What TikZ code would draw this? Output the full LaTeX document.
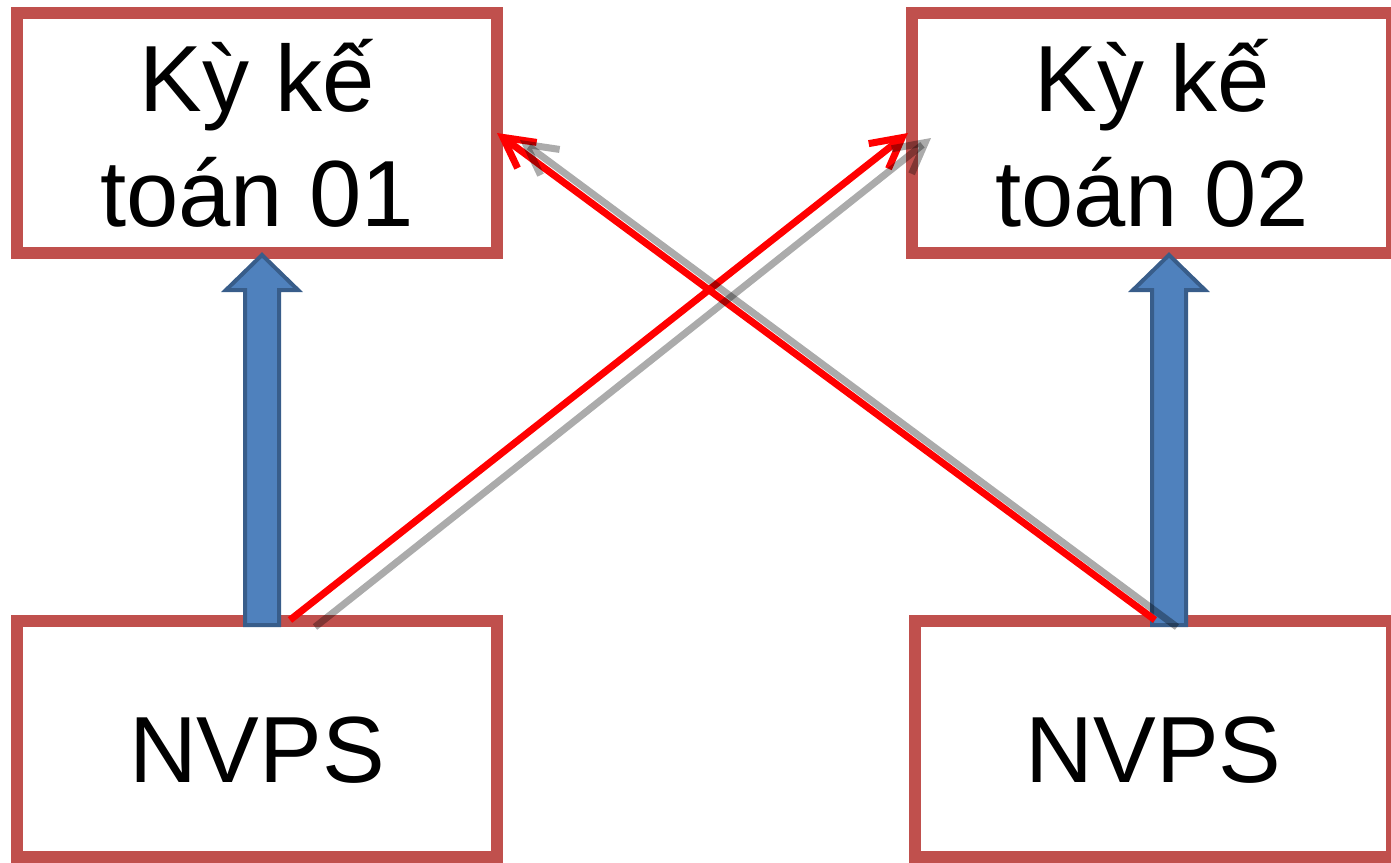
\documentclass[tikz,border=0pt]{standalone}
\usepackage{fontspec}
\setmainfont{Liberation Sans}
\usetikzlibrary{arrows.meta}
\definecolor{boxred}{HTML}{C0504D}
\definecolor{bluefill}{HTML}{4F81BD}
\definecolor{blueline}{HTML}{385D8A}
\begin{document}
\begin{tikzpicture}[x=1pt,y=-1pt,
  box/.style={draw=boxred,line width=12pt,inner sep=0pt,outer sep=0pt,
    minimum width=480pt,minimum height=240pt,align=center,
    font=\fontsize{94}{115}\selectfont},
  single/.style={text height=86pt,text depth=0pt},
  bluearrow/.style={draw=blueline,fill=bluefill,line width=4pt,line join=miter},
  redline/.style={draw=red,line width=7pt,-{Straight Barb[length=30pt,width=32pt]}},
  grayline/.style={draw=black,draw opacity=0.33,line width=7pt,-{Straight Barb[length=30pt,width=32pt]}}]
\useasboundingbox (0,0) rectangle (1391,862);
\node[box] (k1) at (257,133) {Kỳ kế\\toán 01};
\node[box] (k2) at (1152,133) {Kỳ kế\\toán 02};
\node[box,single,minimum height=236pt] (n1) at (257,739) {NVPS};
\node[box,single,minimum height=236pt,minimum width=477pt] (n2) at (1153.5,739) {NVPS};
\draw[bluearrow] (262,255) -- (298,290) -- (279,290) -- (279,625) -- (245,625) -- (245,290) -- (226,290) -- cycle;
\draw[bluearrow] (1169,255) -- (1205,290) -- (1186,290) -- (1186,625) -- (1152,625) -- (1152,290) -- (1133,290) -- cycle;
\coordinate (r1s) at (290,620);
\coordinate (r1e) at (908,133);
\coordinate (r2s) at (1155,620);
\coordinate (r2e) at (497,133);
\coordinate (g1s) at (315,627);
\coordinate (g1e) at (931,138);
\coordinate (g2s) at (1177,627);
\coordinate (g2e) at (520,140);
\draw[redline] (r1s) -- (r1e);
\draw[redline] (r2s) -- (r2e);
\draw[grayline] (g1s) -- (g1e);
\draw[grayline] (g2s) -- (g2e);
\end{tikzpicture}
\end{document}
